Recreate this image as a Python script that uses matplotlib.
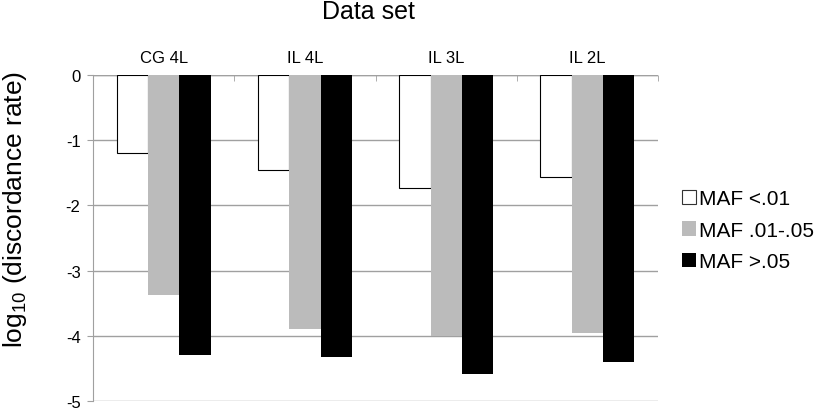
import numpy as np
import matplotlib
matplotlib.use("Agg")
import matplotlib.pyplot as plt
from matplotlib.patches import Patch

plt.rcParams['font.family'] = ['Liberation Sans', 'DejaVu Sans']
plt.rcParams['mathtext.default'] = 'regular'

# data
datasets = ["CG 4L", "IL 4L", "IL 3L", "IL 2L"]
series_names = ["MAF <.01", "MAF .01-.05", "MAF >.05"]
maf_low = [-1.20, -1.45, -1.74, -1.57]
maf_mid = [-3.38, -3.89, -4.00, -3.95]
maf_high = [-4.29, -4.33, -4.58, -4.40]
yticks = [0, -1, -2, -3, -4, -5]

fig = plt.figure(figsize=(8.19, 4.10), dpi=100)
ax = fig.add_axes([0.1136, 0.0195, 0.6899, 0.795])

grid_col = "#a0a0a0"
x = np.arange(len(datasets))
w = 0.222
styles = [dict(color="white", edgecolor="black", linewidth=0.8),
          dict(color="#bbbbbb", edgecolor="none"),
          dict(color="black", edgecolor="none")]
for i, vals in enumerate([maf_low, maf_mid, maf_high]):
    ax.bar(x + (i - 1) * w, vals, w, zorder=3, **styles[i])

ax.set_xlim(-0.5, len(datasets) - 0.5)
ax.set_ylim(-5, 0)
ax.set_yticks(yticks)
ax.set_yticklabels([str(v) for v in yticks])
ax.yaxis.grid(True, color=grid_col, linewidth=1, zorder=0)
ax.tick_params(axis="y", length=4, color=grid_col, labelsize=12, pad=5)

# category labels above the zero line
ax.xaxis.tick_top()
ax.set_xticks(x)
ax.set_xticklabels(datasets)
ax.set_xticks(np.arange(0.5, len(datasets), 1.0), minor=True)
ax.tick_params(axis="x", which="major", length=0, labelsize=12, pad=7)
ax.tick_params(axis="x", which="minor", length=4, color=grid_col, direction="in")

for s in ["top", "right", "bottom"]:
    ax.spines[s].set_visible(False)
ax.spines["left"].set_color(grid_col)
ax.axhline(0, color=grid_col, linewidth=1, zorder=1)

ax.set_ylabel("log$_{10}$ (discordance rate)", fontsize=19)
ax.yaxis.set_label_coords(-0.113, 0.59)

fig.text(368 / 819, 1 - 12 / 410, "Data set", fontsize=18, ha="center", va="center")

handles = [Patch(facecolor="white", edgecolor="#333333", linewidth=0.8),
           Patch(facecolor="#bbbbbb", edgecolor="none"),
           Patch(facecolor="black", edgecolor="none")]
fig.legend(handles, series_names, loc="upper left", bbox_to_anchor=(0.8327, 0.536),
           frameon=False, fontsize=15, handlelength=0.67, handleheight=0.67,
           handletextpad=0.15, labelspacing=0.6, borderaxespad=0, borderpad=0)

fig.savefig("out.png", dpi=100)
